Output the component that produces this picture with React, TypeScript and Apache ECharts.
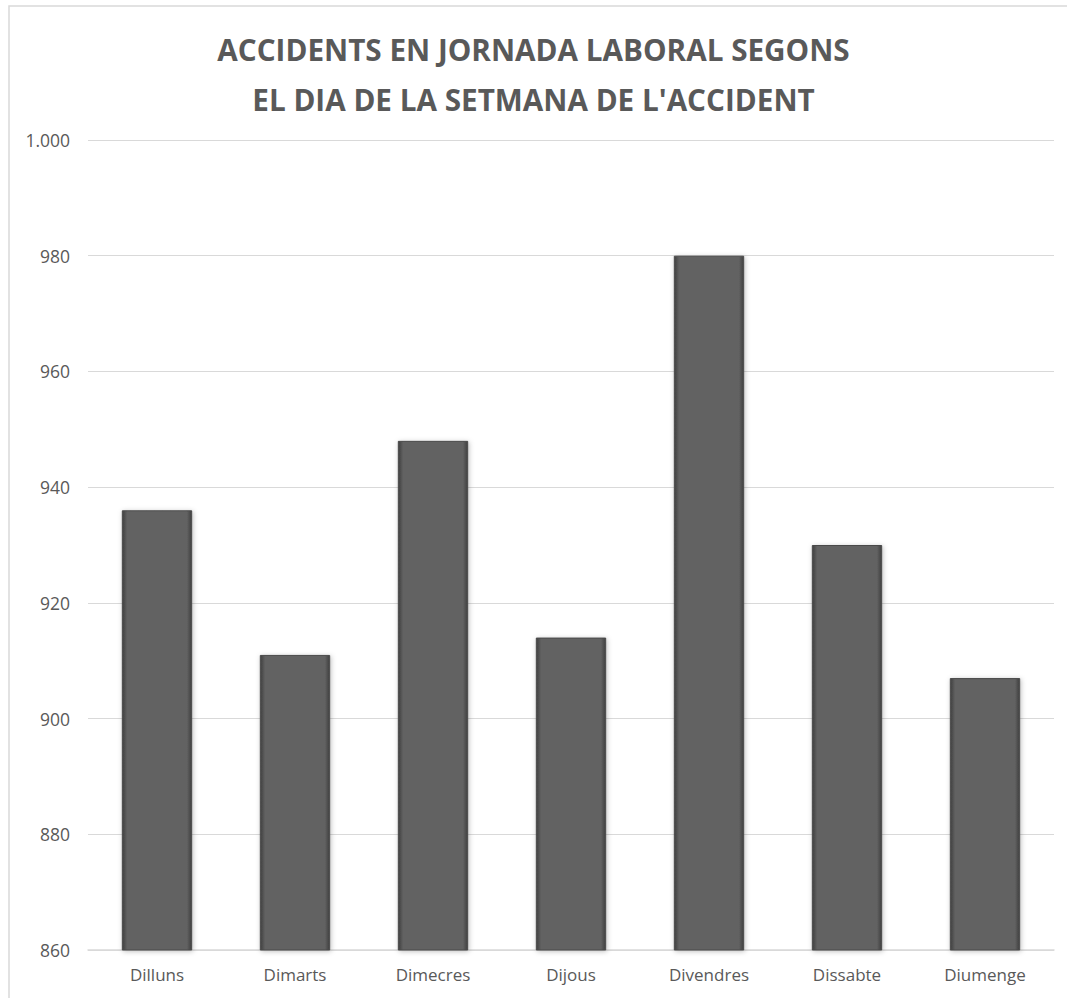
import React, { useEffect, useRef } from "react";
import * as echarts from "echarts";

const categories = ["Dilluns", "Dimarts", "Dimecres", "Dijous", "Divendres", "Dissabte", "Diumenge"];
const values = [936, 911, 948, 914, 980, 930, 907];
const titleLines = ["ACCIDENTS EN JORNADA LABORAL SEGONS", "EL DIA DE LA SETMANA DE L'ACCIDENT"];

export default function App() {
  const ref = useRef<HTMLDivElement>(null);
  useEffect(() => {
    if (!ref.current) return;
    const chart = echarts.init(ref.current, null, { renderer: "svg" });
    chart.setOption({
      animation: false,
      backgroundColor: "#ffffff",
      title: {
        text: titleLines.join("\n"),
        left: "center",
        top: 19,
        textStyle: {
          fontFamily: "Open Sans",
          fontWeight: "bold",
          fontSize: 29.7,
          lineHeight: 50,
          color: "#595959",
        },
      },
      graphic: [
        {
          type: "rect",
          shape: { x: 9, y: 6, width: 1080, height: 1020 },
          style: { fill: "none", stroke: "#d9d9d9", lineWidth: 1.5 },
          silent: true,
          z: -1,
        },
      ],
      grid: { left: 88, right: 13, top: 140, bottom: 48 },
      xAxis: {
        type: "category",
        data: categories,
        axisLine: { lineStyle: { color: "#d9d9d9", width: 1.5 } },
        axisTick: { show: false },
        axisLabel: { color: "#595959", fontFamily: "Open Sans", fontSize: 17, margin: 16 },
      },
      yAxis: {
        type: "value",
        min: 860,
        max: 1000,
        interval: 20,
        axisLine: { show: false },
        axisTick: { show: false },
        splitLine: { lineStyle: { color: "#d9d9d9", width: 1 } },
        axisLabel: {
          color: "#595959",
          fontFamily: "Open Sans",
          fontSize: 17.5,
          margin: 18,
          formatter: (v: number) => (v >= 1000 ? Math.floor(v / 1000) + "." + String(v % 1000).padStart(3, "0") : String(v)),
        },
      },
      series: [
        {
          type: "bar",
          data: values,
          barWidth: "51%",
          itemStyle: {
            color: new echarts.graphic.LinearGradient(0, 0, 1, 0, [
              { offset: 0, color: "#3f3f3f" },
              { offset: 0.07, color: "#626262" },
              { offset: 0.93, color: "#626262" },
              { offset: 1, color: "#3f3f3f" },
            ]),
            borderColor: "#4a4a4a",
            borderWidth: 1,
            shadowBlur: 5,
            shadowColor: "rgba(0,0,0,0.25)",
            shadowOffsetX: 1,
            shadowOffsetY: 1,
          },
        },
      ],
    });
    return () => chart.dispose();
  }, []);
  return <div ref={ref} style={{ position: "absolute", left: 0, top: 0, width: 1067, height: 998 }} />;
}
